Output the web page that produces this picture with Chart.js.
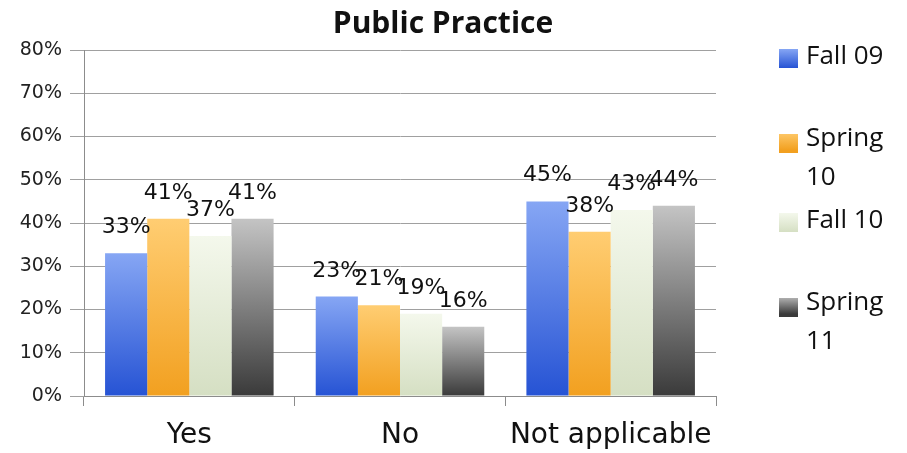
<!DOCTYPE html>
<html>
<head>
<meta charset="utf-8">
<script src="https://cdn.jsdelivr.net/npm/chart.js@4/dist/chart.umd.min.js"></script>
<style>
  html, body { margin: 0; padding: 0; background: #fff; }
  #wrap { width: 907px; height: 453px; }
</style>
</head>
<body>
<div id="wrap"><canvas id="chart" width="907" height="453"></canvas></div>
<script>
const categories = ["Yes", "No", "Not applicable"];
const seriesNames = ["Fall 09", "Spring 10", "Fall 10", "Spring 11"];
const fall09 = [33, 23, 45];
const spring10 = [41, 21, 38];
const fall10 = [37, 19, 43];
const spring11 = [41, 16, 44];
const yTicks = [0, 10, 20, 30, 40, 50, 60, 70, 80];
const chartTitle = "Public Practice";

// top colour, bottom colour, legend swatch
const palette = [
  ["#86a6f4", "#2653d4", "#3a66dc"],
  ["#ffcd72", "#f2a020", "#f5ad3a"],
  ["#f4f8ec", "#d5dfc3", "#d9e3cb"],
  ["#c4c4c4", "#3a3a3a", "#5a5a5a"]
];

function barFill(i) {
  return (ctx) => {
    const chart = ctx.chart;
    const y = chart.scales.y;
    if (!chart.chartArea || !y || ctx.raw == null) return palette[i][2];
    const top = y.getPixelForValue(ctx.raw);
    const bottom = y.getPixelForValue(0);
    const g = chart.ctx.createLinearGradient(0, top, 0, bottom);
    g.addColorStop(0, palette[i][0]);
    g.addColorStop(1, palette[i][1]);
    return g;
  };
}

const allSeries = [fall09, spring10, fall10, spring11];

const extras = {
  id: "extras",
  afterDatasetsDraw(chart) {
    const ctx = chart.ctx;
    ctx.save();
    // value labels
    ctx.font = "22px 'DejaVu Sans'";
    ctx.fillStyle = "#111";
    ctx.textAlign = "center";
    ctx.textBaseline = "alphabetic";
    chart.data.datasets.forEach((ds, di) => {
      chart.getDatasetMeta(di).data.forEach((bar, i) => {
        ctx.fillText(ds.data[i] + "%", bar.x, bar.y - 20);
      });
    });
    // title
    ctx.font = "bold 30px 'Open Sans'";
    ctx.textBaseline = "middle";
    ctx.fillText(chartTitle, 443, 24);
    // legend
    ctx.font = "26px 'Open Sans'";
    ctx.textAlign = "left";
    const maxW = 100;
    chart.data.datasets.forEach((ds, di) => {
      const y0 = 57 + di * 82;
      let lines = [ds.label];
      if (ctx.measureText(ds.label).width > maxW) lines = ds.label.split(" ");
      const sw = ctx.createLinearGradient(0, y0 - 8, 0, y0 + 11);
      sw.addColorStop(0, palette[di][0]);
      sw.addColorStop(1, palette[di][1]);
      ctx.fillStyle = sw;
      ctx.fillRect(779, y0 - 8 + (lines.length > 1 ? 3 : 0), 19, 19);
      ctx.fillStyle = "#111";
      lines.forEach((t, li) => ctx.fillText(t, 806, y0 + li * 39));
    });
    ctx.restore();
  }
};

new Chart(document.getElementById("chart"), {
  type: "bar",
  data: {
    labels: categories,
    datasets: seriesNames.map((name, i) => ({
      label: name,
      data: allSeries[i],
      backgroundColor: barFill(i),
      borderWidth: 0,
      categoryPercentage: 0.8,
      barPercentage: 1.0
    }))
  },
  options: {
    responsive: false,
    animation: false,
    layout: { padding: { left: 0, right: 191, top: 50, bottom: 0 } },
    plugins: {
      legend: { display: false },
      title: { display: false },
      tooltip: { enabled: false }
    },
    scales: {
      x: {
        grid: { offset: true, drawOnChartArea: false, tickLength: 10, color: "#8c8c8c" },
        border: { color: "#8c8c8c" },
        ticks: {
          color: "#111",
          font: { family: "DejaVu Sans", size: 28 },
          padding: 13,
          autoSkip: false,
          maxRotation: 0,
          minRotation: 0
        },
        afterFit: (axis) => { axis.height = 57; }
      },
      y: {
        min: 0,
        max: 80,
        afterBuildTicks: (axis) => { axis.ticks = yTicks.map((v) => ({ value: v })); },
        grid: { color: "#a0a0a0", tickLength: 14 },
        border: { color: "#8c8c8c" },
        ticks: {
          color: "#222",
          font: { family: "DejaVu Sans", size: 19 },
          padding: 8,
          callback: (v) => v + "%"
        },
        afterFit: (axis) => { axis.width = 84; }
      }
    }
  },
  plugins: [extras]
});
</script>
</body>
</html>
